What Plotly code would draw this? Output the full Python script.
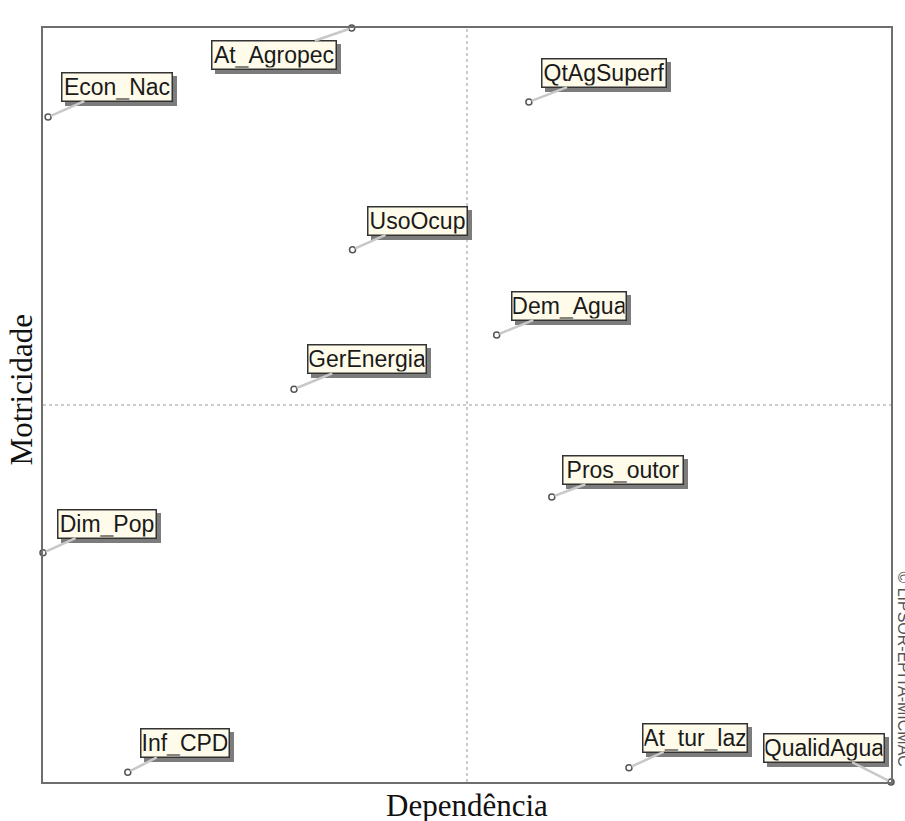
import plotly.graph_objects as go

# MICMAC plano motricidade x dependencia
variaveis = ["Econ_Nac", "At_Agropec", "QtAgSuperf", "UsoOcup", "Dem_Agua", "GerEnergia",
             "Pros_outor", "Dim_Pop", "Inf_CPD", "At_tur_laz", "QualidAgua"]
dependencia = [0.6, 36.4, 57.3, 36.5, 53.5, 29.6, 60.0, 0.0, 10.0, 69.1, 100.0]
motricidade = [88.2, 100.0, 90.2, 70.6, 59.3, 52.1, 37.8, 30.4, 1.3, 1.9, 0.0]

# deslocamento das etiquetas e largura das caixas (pixels)
desloc_x = [69, -78, 75, 65, 72, 73, 71, 64, 57, 66, -67]
desloc_y = [-30, 27, -29, -29, -29, -30, -27, -29, -29, -30, -34]
largura = [112, 126, 126, 101, 116, 120, 122, 100, 90, 106, 122]

fig = go.Figure()

fig.add_trace(go.Scatter(x=dependencia, y=motricidade, mode="markers",
                         marker=dict(symbol="circle-open", size=6, color="#555555", line=dict(width=1.5)),
                         hoverinfo="text", text=variaveis, cliponaxis=False, showlegend=False))

fonte = dict(family="Liberation Sans, Arial", size=23, color="#1a1a1a")
pad = 1
bw = 1.5

# sombras primeiro (caixa vazia), depois as caixas com texto
for x, y, dx, dy, w in zip(dependencia, motricidade, desloc_x, desloc_y, largura):
    fig.add_annotation(x=x, y=y, text=" ", showarrow=False, xshift=dx + 4, yshift=-dy - 4,
                       width=w - 2 * (pad + bw), height=25, font=fonte,
                       bgcolor="#7c7c7c", bordercolor="#7c7c7c", borderwidth=bw, borderpad=pad)
for nome, x, y, dx, dy, w in zip(variaveis, dependencia, motricidade, desloc_x, desloc_y, largura):
    fig.add_annotation(x=x, y=y, text=nome, showarrow=True, ax=dx, ay=dy,
                       width=w - 2 * (pad + bw), height=25,
                       arrowhead=0, arrowwidth=2.5, arrowcolor="#c8c8c8", standoff=3,
                       font=fonte, bgcolor="#fffbea", bordercolor="#333333", borderwidth=bw, borderpad=pad)

# eixos centrais tracejados
fig.add_shape(type="line", x0=50, x1=50, y0=0, y1=100, line=dict(color="#9a9a9a", width=1, dash="dot"))
fig.add_shape(type="line", x0=0, x1=100, y0=50, y1=50, line=dict(color="#9a9a9a", width=1, dash="dot"))

fig.add_annotation(text="Dependência", xref="paper", yref="paper", x=0.5, y=0, yshift=-4,
                   xanchor="center", yanchor="top", showarrow=False,
                   font=dict(family="Liberation Serif, Times New Roman", size=31, color="#111111"))
fig.add_annotation(text="Motricidade", xref="paper", yref="paper", x=0, y=0.52, xshift=-2,
                   xanchor="right", yanchor="middle", textangle=-90, showarrow=False,
                   font=dict(family="Liberation Serif, Times New Roman", size=31, color="#111111"))
fig.add_annotation(text="© LIPSOR-EPITA-MICMAC", xref="paper", yref="paper", x=1, y=0.15, xshift=2,
                   xanchor="left", yanchor="middle", textangle=90, showarrow=False,
                   font=dict(family="Liberation Sans, Arial", size=16, color="#555555"))

eixo = dict(range=[0, 100], showgrid=False, zeroline=False, showticklabels=False, ticks="",
            showline=True, mirror=True, linecolor="#6e6e6e", linewidth=2)
fig.update_xaxes(**eixo)
fig.update_yaxes(**eixo)

fig.update_layout(width=905, height=821, margin=dict(l=43, r=12, t=28, b=39),
                  plot_bgcolor="white", paper_bgcolor="white")

# tira a margem padrao do body para o grafico ficar em 0,0
fig.write_html("out.html", config={"displayModeBar": False},
               post_script="document.body.style.margin='0';document.body.style.overflow='hidden';")
